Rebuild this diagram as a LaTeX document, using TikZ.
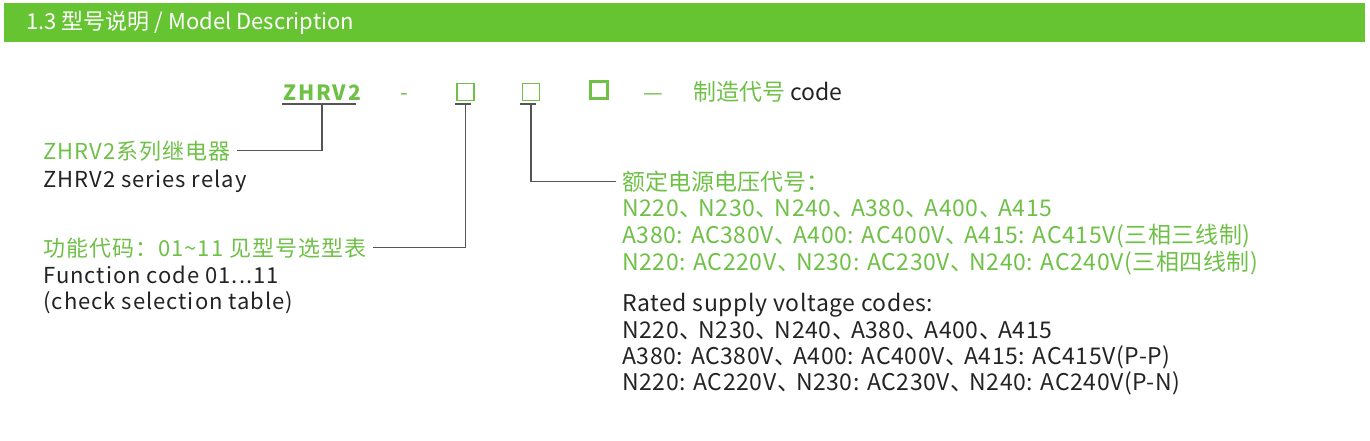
\documentclass[tikz,border=0pt]{standalone}
\usepackage{fontspec}
\setmainfont{Noto Sans CJK SC}
\usetikzlibrary{positioning}
\definecolor{bandgreen}{RGB}{102,196,51}
\definecolor{txtgreen}{RGB}{110,192,70}
\definecolor{leadgrey}{RGB}{85,85,85}
\definecolor{txtblack}{RGB}{35,35,35}
\newcommand{\dunhao}{、\kern-2pt}
\tikzset{
  greentext/.style={txtgreen, anchor=base west, inner sep=0pt, font=\fontsize{11.5}{13}\selectfont},
  blacktext/.style={txtblack, anchor=base west, inner sep=0pt, font=\fontsize{11.5}{13}\selectfont},
  spaced/.style={font=\fontsize{11}{13}\selectfont\addfontfeatures{LetterSpace=4.5}},
  wide/.style={font=\fontsize{11.5}{13}\selectfont\addfontfeatures{LetterSpace=2.5}},
  codebox/.style={draw=txtgreen, line width=0.6pt, minimum size=8.5pt, inner sep=0pt, outer sep=0pt},
  lead/.style={leadgrey, line width=0.6pt, shorten >=3pt},
}

\begin{document}
\begin{tikzpicture}[x=0.5pt, y=-0.5pt]
	\useasboundingbox (0,0) rectangle (1370,440);

	% title bar
	\fill[bandgreen] (4,3) rectangle (1365,42);
	\node[anchor=base west, inner sep=0pt, white, font=\fontsize{11}{12}\selectfont] (title) at (26,29) {1.3 型号说明 / Model Description};

	% model code
	\node[anchor=base west, inner sep=0pt, txtgreen, font=\fontsize{10.5}{12}\bfseries\selectfont\addfontfeatures{LetterSpace=9}] (zhrv) at (283,100) {ZHRV2};
	\node[anchor=base, inner sep=0pt, txtgreen, font=\fontsize{11}{13}\selectfont] (dash) at (404,100) {-};
	\node[codebox] (funbox) at (465.5,92) {};
	\node[codebox] (voltbox) at (531,92) {};
	\node[codebox, line width=1.5pt] (mfgbox) at (598.5,90) {};
	\node[anchor=base, inner sep=0pt, txtgreen, font=\fontsize{11}{13}\selectfont] (longdash) at (653,100) {—};
	\node[greentext] (mfgcn) at (693,100) {制造代号};
	\node[blacktext] (mfgen) at (mfgcn.base east) {\,code};

	\draw[lead] (282,104) -- (362,104);
	\draw[lead] (455,104) -- (477,104);
	\draw[lead] (520,104) -- (542,104);
	\coordinate (zhrvtick) at (322,104);
	\coordinate (funtick) at (465.5,104);
	\coordinate (volttick) at (531,104);

	% left labels
	\node[greentext, spaced] (relaycn) at (43,159) {ZHRV2系列继电器};
	\node[blacktext, spaced] (relayen) at (43,187) {ZHRV2 series relay};

	\node[greentext, spaced] (funcn) at (43,256) {功能代码：01\textasciitilde11 见型号选型表};
	\node[blacktext, spaced] (funen) at (43,283) {Function code 01...11};
	\node[blacktext, spaced] (funen2) at (43,309) {(check selection table)};

	% right labels
	\node[greentext] (voltcn) at (622,190) {额定电源电压代号：};
	\node[greentext, wide] (voltcn2) at (622,216) {N220\dunhao N230\dunhao N240\dunhao A380\dunhao A400\dunhao A415};
	\node[greentext, wide] (voltcn3) at (622,243) {A380: AC380V\dunhao A400: AC400V\dunhao A415: AC415V(三相三线制)};
	\node[greentext, wide] (voltcn4) at (622,270) {N220: AC220V\dunhao N230: AC230V\dunhao N240: AC240V(三相四线制)};

	\node[blacktext, wide] (volten) at (622,311) {Rated supply voltage codes:};
	\node[blacktext, wide] (volten2) at (622,338) {N220\dunhao N230\dunhao N240\dunhao A380\dunhao A400\dunhao A415};
	\node[blacktext, wide] (volten3) at (622,364) {A380: AC380V\dunhao A400: AC400V\dunhao A415: AC415V(P-P)};
	\node[blacktext, wide] (volten4) at (622,390) {N220: AC220V\dunhao N230: AC230V\dunhao N240: AC240V(P-N)};

	% connectors
	\draw[lead] (zhrvtick) |- (relaycn.east);
	\draw[lead] (funtick) |- (funcn.east);
	\draw[lead] (volttick) |- (voltcn.west);
\end{tikzpicture}
\end{document}
